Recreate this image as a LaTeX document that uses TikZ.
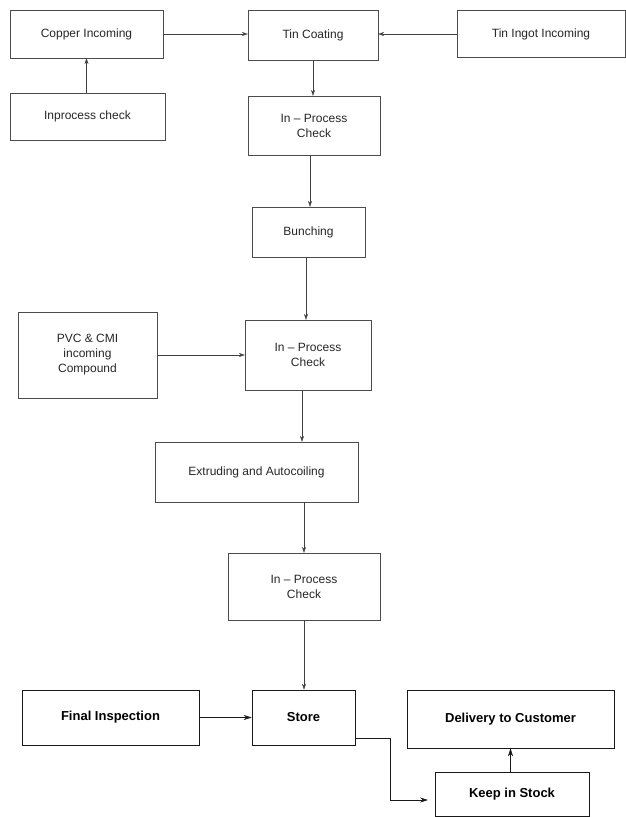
\documentclass[tikz,border=0pt]{standalone}
\usepackage{fontspec}
\setmainfont{Liberation Sans}
\usetikzlibrary{arrows.meta}
\begin{document}
\begin{tikzpicture}[x=1pt, y=-1pt, >={Stealth[length=6pt,width=4pt]},
    box/.style={draw=black!70, thin, text=black!85, align=center, inner sep=0pt,
      font=\fontsize{12}{15}\selectfont},
    boldbox/.style={box, draw=black!90, semithick, text=black,
      font=\fontsize{13}{15}\selectfont\bfseries},
    flow/.style={->, thin, black!75},
    boldflow/.style={->, semithick, black!90, >={Stealth[length=8pt,width=5pt]}}]
  \useasboundingbox (0,0) rectangle (626,817);
  % incoming material
  \node[box, minimum width=153pt, minimum height=48pt] (copper) at (86.5,34) {Copper Incoming};
  \node[box, minimum width=130pt, minimum height=50pt] (tin) at (313,35) {Tin Coating};
  \node[box, minimum width=168pt, minimum height=47pt] (ingot) at (541,34) {Tin Ingot Incoming};
  \node[box, minimum width=155pt, minimum height=47pt] (inproc) at (87.5,116.5) {Inprocess check};
  % process line
  \node[box, minimum width=132pt, minimum height=59pt] (check1) at (314,125.5) {In -- Process\\Check};
  \node[box, minimum width=113pt, minimum height=50pt] (bunch) at (308.5,232) {Bunching};
  \node[box, minimum width=139pt, minimum height=86pt] (pvc) at (87.5,355) {PVC \& CMI\\incoming\\Compound};
  \node[box, minimum width=126pt, minimum height=70pt] (check2) at (308,355) {In -- Process\\Check};
  \node[box, minimum width=203pt, minimum height=60pt] (extrude) at (256.5,472) {Extruding and Autocoiling};
  \node[box, minimum width=152pt, minimum height=67pt] (check3) at (304,586.5) {In -- Process\\Check};
  % store and delivery
  \node[boldbox, minimum width=177pt, minimum height=55pt] (final) at (110.5,717.5) {Final Inspection};
  \node[boldbox, minimum width=103pt, minimum height=55pt] (store) at (303.5,717.5) {Store};
  \node[boldbox, minimum width=207pt, minimum height=58pt] (deliver) at (510.5,719) {Delivery to Customer};
  \node[boldbox, minimum width=154pt, minimum height=44pt] (stock) at (512,794) {Keep in Stock};
  \coordinate (turn) at (390,738);
  \coordinate (tip) at (428,800);

  \draw[flow] (copper.east) -- (copper.east -| tin.west);
  \draw[flow] (ingot.west) -- (ingot.west -| tin.east);
  \draw[flow] (inproc.north -| copper) -- (copper.south);
  \draw[flow] (tin.south) -- (tin.south |- check1.north);
  \draw[flow] (check1.south -| 310,0) -- (bunch.north -| 310,0);
  \draw[flow] (bunch.south -| 306,0) -- (check2.north -| 306,0);
  \draw[flow] (pvc.east) -- (check2.west);
  \draw[flow] (check2.south -| 302,0) -- (extrude.north -| 302,0);
  \draw[flow] (extrude.south -| 304,0) -- (check3.north -| 304,0);
  \draw[flow] (check3.south -| 304,0) -- (store.north -| 304,0);
  \draw[boldflow] (final.east) -- (store.west);
  \draw[boldflow] (store.east |- turn) -- (turn) |- (tip);
  \draw[boldflow] (stock.north -| deliver) -- (deliver.south);
\end{tikzpicture}
\end{document}
